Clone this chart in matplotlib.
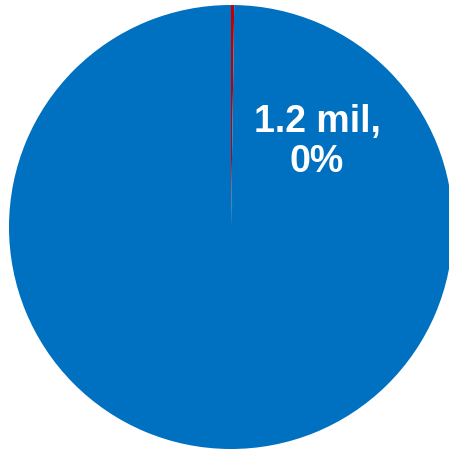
import matplotlib
matplotlib.use("Agg")
import matplotlib.pyplot as plt

# values in millions
labels = ["Other", "Segment"]
values = [520.0, 1.2]
colors = ["#0070C0", "#C00000"]
label_text = "1.2 mil,\n0%"

fig = plt.figure(figsize=(4.49, 4.54), dpi=100)
ax = fig.add_axes([0, 0, 1, 1])

# the small slice starts at 12 o'clock and runs clockwise
ax.pie(values[::-1], colors=colors[::-1], startangle=90, counterclock=False,
       radius=1.0, wedgeprops=dict(linewidth=0))

r_px = 222.0
cx, cy = 231.0, 227.0
ax.set_xlim(-cx / r_px, (449 - cx) / r_px)
ax.set_ylim(-(454 - cy) / r_px, cy / r_px)
ax.set_aspect("auto")
ax.axis("off")

# label centre given in pixels from the top-left corner
ax.text((317 - cx) / r_px, (cy - 142) / r_px, label_text, ha="center", va="center",
        color="white", fontsize=27, fontweight="bold", family="Liberation Sans",
        linespacing=1.15)

fig.savefig("out.png", dpi=100)
